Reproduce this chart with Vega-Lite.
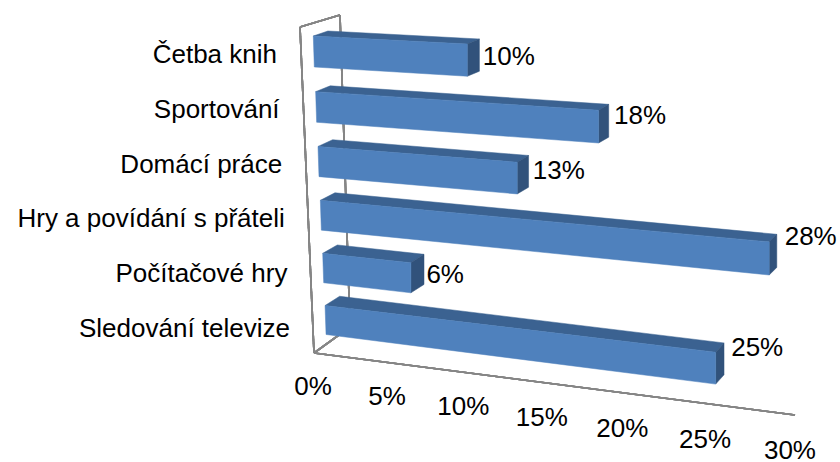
{
"$schema":"https://vega.github.io/schema/vega-lite/v6.json",
"width":840,"height":462,"padding":0,"autosize":"none",
"background":"white",
"config":{"view":{"stroke":null},"text":{"font":"Liberation Sans","fontSize":26,"color":"#000000"}},
"data":{"values":[
{"activity":"Četba knih","value":10},
{"activity":"Sportování","value":18},
{"activity":"Domácí práce","value":13},
{"activity":"Hry a povídání s přáteli","value":28},
{"activity":"Počítačové hry","value":6},
{"activity":"Sledování televize","value":25}
]},
"transform":[
{"window":[{"op":"row_number","as":"rn"}]},
{"calculate":"datum.rn-1","as":"t"},
{"calculate":"313.3+2.35*datum.t","as":"xFL"},
{"calculate":"36+56.1*datum.t-0.44*datum.t*datum.t","as":"yFT"},
{"calculate":"31-0.4*datum.t","as":"h"},
{"calculate":"datum.value*(14.85+0.055*datum.value-0.12*datum.t)","as":"len"},
{"calculate":"datum.xFL+datum.len","as":"xFR"},
{"calculate":"datum.yFT+datum.len*(0.052+0.0135*datum.t)","as":"yFTR"},
{"calculate":"datum.yFTR+datum.h*(1+0.004*datum.value)","as":"yFBR"},
{"calculate":"-5-0.85*datum.t","as":"dy"},
{"calculate":"datum.xFR+14.6-0.25*datum.value","as":"xBR"},
{"calculate":"[0,1,2,3]","as":"cs"}
],
"layer":[
{"mark":{"type":"rule","color":"#868686","strokeWidth":1.6},"encoding":{"x":{"datum":300,"type":"quantitative","scale":{"domain":[0,840],"range":[0,840],"nice":false},"axis":null},"y":{"datum":27,"type":"quantitative","scale":{"domain":[0,462],"range":[0,462],"nice":false},"axis":null},"x2":{"datum":314},"y2":{"datum":353}}},
{"mark":{"type":"rule","color":"#868686","strokeWidth":1.6},"encoding":{"x":{"datum":300,"type":"quantitative","scale":{"domain":[0,840],"range":[0,840],"nice":false},"axis":null},"y":{"datum":27,"type":"quantitative","scale":{"domain":[0,462],"range":[0,462],"nice":false},"axis":null},"x2":{"datum":340},"y2":{"datum":15}}},
{"mark":{"type":"rule","color":"#868686","strokeWidth":1.6},"encoding":{"x":{"datum":340,"type":"quantitative","scale":{"domain":[0,840],"range":[0,840],"nice":false},"axis":null},"y":{"datum":15,"type":"quantitative","scale":{"domain":[0,462],"range":[0,462],"nice":false},"axis":null},"x2":{"datum":350},"y2":{"datum":327}}},
{"mark":{"type":"rule","color":"#868686","strokeWidth":1.6},"encoding":{"x":{"datum":314,"type":"quantitative","scale":{"domain":[0,840],"range":[0,840],"nice":false},"axis":null},"y":{"datum":353,"type":"quantitative","scale":{"domain":[0,462],"range":[0,462],"nice":false},"axis":null},"x2":{"datum":350},"y2":{"datum":327}}},
{"mark":{"type":"rule","color":"#868686","strokeWidth":1.6},"encoding":{"x":{"datum":314,"type":"quantitative","scale":{"domain":[0,840],"range":[0,840],"nice":false},"axis":null},"y":{"datum":353,"type":"quantitative","scale":{"domain":[0,462],"range":[0,462],"nice":false},"axis":null},"x2":{"datum":795},"y2":{"datum":415}}},
{"transform":[{"flatten":["cs"]},
{"calculate":"[datum.xFL,datum.xFR,datum.xBR,datum.xFL+14.6][datum.cs]","as":"px"},
{"calculate":"[datum.yFT,datum.yFTR,datum.yFTR+datum.dy,datum.yFT+datum.dy][datum.cs]","as":"py"}],
"mark":{"type":"line","interpolate":"linear-closed","fill":"#3B6291","stroke":"#3B6291","strokeWidth":0.5},
"encoding":{"x":{"field":"px","type":"quantitative","scale":{"domain":[0,840],"range":[0,840],"nice":false},"axis":null},"y":{"field":"py","type":"quantitative","scale":{"domain":[0,462],"range":[0,462],"nice":false},"axis":null},"detail":{"field":"activity"},"order":{"field":"cs"}}},
{"transform":[{"flatten":["cs"]},
{"calculate":"[datum.xFR,datum.xBR,datum.xBR,datum.xFR][datum.cs]","as":"px"},
{"calculate":"[datum.yFTR,datum.yFTR+datum.dy,datum.yFBR+datum.dy,datum.yFBR][datum.cs]","as":"py"}],
"mark":{"type":"line","interpolate":"linear-closed","fill":"#31527B","stroke":"#31527B","strokeWidth":0.5},
"encoding":{"x":{"field":"px","type":"quantitative","scale":{"domain":[0,840],"range":[0,840],"nice":false},"axis":null},"y":{"field":"py","type":"quantitative","scale":{"domain":[0,462],"range":[0,462],"nice":false},"axis":null},"detail":{"field":"activity"},"order":{"field":"cs"}}},
{"transform":[{"flatten":["cs"]},
{"calculate":"[datum.xFL,datum.xFR,datum.xFR,datum.xFL+1][datum.cs]","as":"px"},
{"calculate":"[datum.yFT,datum.yFTR,datum.yFBR,datum.yFT+datum.h][datum.cs]","as":"py"}],
"mark":{"type":"line","interpolate":"linear-closed","fill":"#4F81BD","stroke":"#4F81BD","strokeWidth":0.5},
"encoding":{"x":{"field":"px","type":"quantitative","scale":{"domain":[0,840],"range":[0,840],"nice":false},"axis":null},"y":{"field":"py","type":"quantitative","scale":{"domain":[0,462],"range":[0,462],"nice":false},"axis":null},"detail":{"field":"activity"},"order":{"field":"cs"}}},
{"transform":[{"calculate":"277+2.6*datum.t","as":"lx"},{"calculate":"55+54.8*datum.t","as":"ly"}],
"mark":{"type":"text","align":"right","baseline":"middle"},
"encoding":{"x":{"field":"lx","type":"quantitative","scale":{"domain":[0,840],"range":[0,840],"nice":false},"axis":null},"y":{"field":"ly","type":"quantitative","scale":{"domain":[0,462],"range":[0,462],"nice":false},"axis":null},"text":{"field":"activity"}}},
{"transform":[{"calculate":"datum.xFR+15.5","as":"lx"},{"calculate":"datum.yFTR+21-0.8*datum.value-datum.t","as":"ly"},{"calculate":"datum.value+'%'","as":"lab"}],
"mark":{"type":"text","align":"left","baseline":"middle"},
"encoding":{"x":{"field":"lx","type":"quantitative","scale":{"domain":[0,840],"range":[0,840],"nice":false},"axis":null},"y":{"field":"ly","type":"quantitative","scale":{"domain":[0,462],"range":[0,462],"nice":false},"axis":null},"text":{"field":"lab"}}},
{"data":{"values":[{"tick":0},{"tick":5},{"tick":10},{"tick":15},{"tick":20},{"tick":25},{"tick":30}]},
"transform":[{"calculate":"313+14.6*datum.tick+0.0433*datum.tick*datum.tick","as":"lx"},{"calculate":"387+2*datum.tick+0.004*datum.tick*datum.tick","as":"ly"},{"calculate":"datum.tick+'%'","as":"lab"}],
"mark":{"type":"text","align":"center","baseline":"middle"},
"encoding":{"x":{"field":"lx","type":"quantitative","scale":{"domain":[0,840],"range":[0,840],"nice":false},"axis":null},"y":{"field":"ly","type":"quantitative","scale":{"domain":[0,462],"range":[0,462],"nice":false},"axis":null},"text":{"field":"lab"}}}
]
}
